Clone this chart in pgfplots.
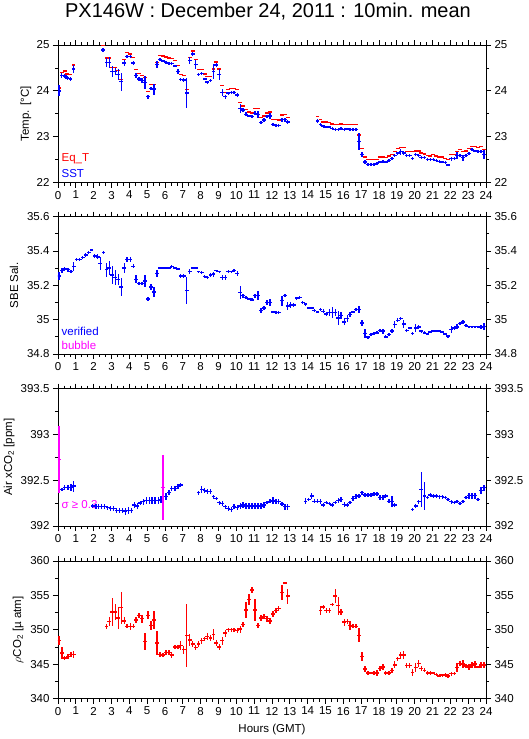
\documentclass[border=0pt]{standalone}
\usepackage{fontspec}
\setmainfont{Liberation Sans}
\usepackage{pgfplots}
\pgfplotsset{compat=1.18}
\usepackage{pgfplotstable}

% SST (blue): hour, value, half error
\pgfplotstableread{
h v e
0.05 24.00 0.12
0.20 24.33 0.05
0.37 24.32 0.04
0.53 24.28 0.04
0.70 24.26 0.04
0.87 24.48 0.08
2.52 24.89 0.05
2.72 24.62 0.10
2.88 24.62 0.12
3.05 24.42 0.12
3.22 24.42 0.08
3.38 24.36 0.12
3.55 24.20 0.20
3.72 24.61 0.06
3.88 24.75 0.04
4.05 24.75 0.04
4.22 24.61 0.05
4.38 24.34 0.06
4.55 24.26 0.04
4.72 24.22 0.05
4.88 24.18 0.14
5.05 23.87 0.05
5.22 24.05 0.04
5.38 24.04 0.12
5.55 24.58 0.08
5.72 24.69 0.03
5.88 24.65 0.03
6.05 24.62 0.03
6.22 24.60 0.03
6.38 24.60 0.03
6.55 24.54 0.03
6.72 24.42 0.06
6.88 24.25 0.04
7.05 24.24 0.05
7.22 23.95 0.32
7.38 24.66 0.08
7.55 24.80 0.04
7.72 24.58 0.10
7.88 24.36 0.03
8.05 24.38 0.03
8.22 24.26 0.03
8.38 24.19 0.03
8.55 24.22 0.03
8.72 24.42 0.16
8.88 24.56 0.05
9.05 24.36 0.12
9.22 23.97 0.08
9.38 23.87 0.04
9.55 23.95 0.03
9.72 23.96 0.03
9.88 23.97 0.03
10.05 23.91 0.04
10.22 23.62 0.10
10.38 23.58 0.04
10.55 23.49 0.04
10.72 23.45 0.03
10.88 23.44 0.03
11.05 23.51 0.04
11.22 23.49 0.08
11.38 23.31 0.04
11.55 23.36 0.04
11.72 23.44 0.04
11.88 23.45 0.07
12.05 23.26 0.03
12.22 23.25 0.03
12.38 23.25 0.03
12.55 23.37 0.04
12.72 23.37 0.04
12.88 23.32 0.04
14.55 23.34 0.04
14.72 23.26 0.03
14.88 23.23 0.03
15.05 23.21 0.03
15.22 23.21 0.03
15.38 23.18 0.03
15.55 23.16 0.03
15.72 23.16 0.03
15.88 23.18 0.03
16.05 23.16 0.03
16.22 23.17 0.03
16.38 23.16 0.03
16.55 23.16 0.03
16.72 23.16 0.03
16.88 22.90 0.18
17.05 22.61 0.05
17.22 22.45 0.05
17.38 22.39 0.03
17.55 22.39 0.03
17.72 22.39 0.03
17.88 22.41 0.03
18.05 22.45 0.03
18.22 22.46 0.03
18.38 22.45 0.03
18.55 22.48 0.03
18.72 22.52 0.03
18.88 22.59 0.04
19.05 22.64 0.03
19.22 22.67 0.06
19.38 22.64 0.04
19.55 22.59 0.03
19.72 22.59 0.03
19.88 22.52 0.03
20.05 22.61 0.03
20.22 22.59 0.03
20.38 22.54 0.03
20.55 22.54 0.03
20.72 22.50 0.03
20.88 22.50 0.03
21.05 22.50 0.03
21.22 22.48 0.03
21.38 22.46 0.03
21.55 22.45 0.03
21.72 22.43 0.03
21.88 22.38 0.03
22.05 22.52 0.04
22.22 22.52 0.03
22.38 22.59 0.07
22.55 22.59 0.03
22.72 22.54 0.06
22.88 22.59 0.03
23.05 22.63 0.03
23.22 22.72 0.03
23.38 22.69 0.03
23.55 22.67 0.03
23.72 22.67 0.03
23.88 22.61 0.09
}\sst

% Eq_T (red)
\pgfplotstableread{
h v
0.05 24.06
0.20 24.40
0.37 24.43
0.53 24.37
0.70 24.35
0.87 24.56
2.52 24.99
2.72 24.72
2.88 24.72
3.05 24.51
3.22 24.51
3.38 24.44
3.55 24.25
3.72 24.69
3.88 24.83
4.05 24.80
4.22 24.73
4.38 24.47
4.55 24.38
4.72 24.33
4.88 24.29
5.05 23.99
5.22 24.14
5.38 24.14
5.55 24.62
5.72 24.77
5.88 24.76
6.05 24.74
6.22 24.72
6.38 24.70
6.55 24.66
6.72 24.55
6.88 24.36
7.05 24.33
7.22 24.03
7.38 24.73
7.55 24.87
7.72 24.69
7.88 24.47
8.05 24.47
8.22 24.37
8.38 24.31
8.55 24.31
8.72 24.48
8.88 24.63
9.05 24.48
9.22 24.11
9.38 23.97
9.55 24.03
9.72 24.05
9.88 24.05
10.05 24.03
10.22 23.74
10.38 23.67
10.55 23.59
10.72 23.54
10.88 23.52
11.05 23.62
11.22 23.62
11.38 23.42
11.55 23.45
11.72 23.52
11.88 23.54
12.05 23.37
12.22 23.37
12.38 23.36
12.55 23.47
12.72 23.48
12.88 23.42
14.55 23.44
14.72 23.37
14.88 23.32
15.05 23.32
15.22 23.31
15.38 23.28
15.55 23.26
15.72 23.26
15.88 23.28
16.05 23.26
16.22 23.26
16.38 23.26
16.55 23.26
16.72 23.26
16.88 23.04
17.05 22.74
17.22 22.56
17.38 22.50
17.55 22.50
17.72 22.50
17.88 22.50
18.05 22.56
18.22 22.56
18.38 22.54
18.55 22.58
18.72 22.61
18.88 22.67
19.05 22.74
19.22 22.76
19.38 22.76
19.55 22.67
19.72 22.67
19.88 22.68
20.05 22.69
20.22 22.69
20.38 22.64
20.55 22.62
20.72 22.59
20.88 22.58
21.05 22.61
21.22 22.58
21.38 22.56
21.55 22.56
21.72 22.52
21.88 22.50
22.05 22.61
22.22 22.61
22.38 22.67
22.55 22.72
22.72 22.67
22.88 22.69
23.05 22.74
23.22 22.78
23.38 22.78
23.55 22.76
23.72 22.78
23.88 22.72
}\eqt

% SBE salinity (blue)
\pgfplotstableread{
h v e
0.05 35.254 0.025
0.22 35.285 0.015
0.38 35.295 0.012
0.55 35.290 0.010
0.72 35.280 0.010
0.88 35.310 0.025
1.05 35.350 0.010
1.22 35.350 0.010
1.38 35.360 0.010
1.55 35.375 0.010
1.72 35.390 0.010
1.88 35.405 0.008
2.05 35.370 0.012
2.22 35.365 0.015
2.38 35.327 0.040
2.55 35.390 0.010
2.72 35.290 0.040
2.88 35.300 0.040
3.05 35.260 0.050
3.22 35.246 0.045
3.38 35.235 0.033
3.55 35.190 0.050
3.72 35.300 0.028
3.88 35.350 0.012
4.05 35.350 0.012
4.22 35.310 0.012
4.38 35.235 0.022
4.55 35.210 0.010
4.72 35.210 0.010
4.88 35.225 0.035
5.05 35.120 0.012
5.22 35.190 0.015
5.38 35.160 0.028
5.55 35.270 0.020
5.72 35.300 0.008
5.88 35.300 0.005
6.05 35.300 0.005
6.22 35.300 0.005
6.38 35.310 0.008
6.55 35.300 0.005
6.72 35.295 0.005
6.88 35.255 0.012
7.05 35.255 0.010
7.22 35.170 0.080
7.38 35.280 0.015
7.55 35.300 0.008
7.72 35.300 0.005
7.88 35.280 0.005
8.05 35.275 0.008
8.22 35.250 0.008
8.38 35.246 0.008
8.55 35.260 0.010
8.72 35.265 0.015
8.88 35.285 0.005
9.05 35.280 0.005
9.22 35.246 0.015
9.38 35.246 0.015
9.55 35.280 0.008
9.72 35.280 0.005
9.88 35.285 0.008
10.05 35.270 0.015
10.22 35.158 0.040
10.38 35.140 0.012
10.55 35.130 0.008
10.72 35.120 0.008
10.88 35.115 0.008
11.05 35.140 0.012
11.22 35.140 0.025
11.38 35.054 0.015
11.55 35.067 0.010
11.72 35.098 0.015
11.88 35.100 0.020
12.05 35.044 0.008
12.22 35.042 0.008
12.38 35.042 0.008
12.55 35.110 0.028
12.72 35.140 0.008
12.88 35.080 0.025
13.05 35.085 0.015
13.22 35.085 0.010
13.38 35.125 0.008
13.55 35.130 0.008
13.72 35.100 0.008
13.88 35.090 0.008
14.05 35.067 0.005
14.22 35.067 0.005
14.38 35.054 0.008
14.55 35.044 0.008
14.72 35.060 0.010
14.88 35.048 0.012
15.05 35.033 0.010
15.22 35.042 0.020
15.38 35.042 0.030
15.55 35.042 0.020
15.72 35.010 0.040
15.88 35.023 0.020
16.05 34.987 0.020
16.22 35.005 0.020
16.38 35.030 0.012
16.55 35.044 0.008
16.72 35.058 0.008
16.88 35.058 0.020
17.05 34.980 0.015
17.22 34.920 0.025
17.38 34.898 0.008
17.55 34.913 0.008
17.72 34.920 0.008
17.88 34.923 0.008
18.05 34.937 0.008
18.22 34.933 0.015
18.38 34.900 0.008
18.55 34.913 0.008
18.72 34.933 0.010
18.88 34.971 0.020
19.05 34.996 0.012
19.22 35.006 0.010
19.38 34.975 0.025
19.55 34.938 0.008
19.72 34.952 0.008
19.88 34.919 0.010
20.05 34.952 0.022
20.22 34.958 0.012
20.38 34.933 0.008
20.55 34.923 0.008
20.72 34.917 0.008
20.88 34.927 0.005
21.05 34.933 0.005
21.22 34.933 0.005
21.38 34.933 0.005
21.55 34.927 0.005
21.72 34.917 0.005
21.88 34.904 0.008
22.05 34.942 0.020
22.22 34.952 0.012
22.38 34.958 0.015
22.55 34.977 0.008
22.72 34.987 0.012
22.88 34.967 0.008
23.05 34.960 0.005
23.22 34.960 0.005
23.38 34.960 0.005
23.55 34.960 0.005
23.72 34.958 0.012
23.88 34.960 0.020
}\sal

% Air xCO2 (blue)
\pgfplotstableread{
h v e
0.22 392.400 0.020
0.38 392.420 0.030
0.55 392.420 0.030
0.72 392.420 0.035
0.88 392.435 0.060
1.95 392.218 0.020
2.12 392.210 0.025
2.28 392.215 0.025
2.45 392.215 0.030
2.62 392.215 0.030
2.78 392.200 0.020
2.95 392.190 0.030
3.12 392.190 0.030
3.28 392.167 0.030
3.45 392.167 0.030
3.62 392.167 0.030
3.78 392.156 0.035
3.95 392.170 0.035
4.12 392.170 0.030
4.28 392.230 0.035
4.45 392.220 0.035
4.62 392.250 0.025
4.78 392.265 0.035
4.95 392.280 0.035
5.12 392.280 0.035
5.28 392.280 0.035
5.45 392.280 0.035
5.62 392.280 0.040
5.78 392.290 0.040
6.05 392.320 0.035
6.22 392.363 0.030
6.38 392.410 0.025
6.55 392.410 0.030
6.72 392.430 0.025
6.88 392.447 0.025
7.88 392.363 0.020
8.05 392.400 0.035
8.22 392.385 0.025
8.38 392.374 0.025
8.55 392.374 0.025
8.72 392.320 0.020
8.88 392.300 0.020
9.05 392.254 0.020
9.22 392.247 0.025
9.38 392.210 0.020
9.55 392.190 0.025
9.72 392.180 0.030
9.88 392.210 0.025
10.05 392.203 0.030
10.22 392.220 0.035
10.38 392.230 0.030
10.55 392.220 0.035
10.72 392.220 0.030
10.88 392.220 0.035
11.05 392.220 0.035
11.22 392.220 0.035
11.38 392.218 0.035
11.55 392.230 0.030
11.72 392.257 0.020
11.88 392.270 0.020
12.05 392.280 0.035
12.22 392.270 0.030
12.38 392.270 0.030
12.55 392.240 0.025
12.72 392.210 0.030
12.88 392.210 0.030
13.88 392.270 0.035
14.05 392.290 0.020
14.22 392.327 0.030
14.38 392.270 0.020
14.55 392.270 0.020
14.72 392.270 0.030
14.88 392.230 0.020
15.05 392.258 0.020
15.22 392.247 0.020
15.38 392.230 0.025
15.55 392.257 0.020
15.72 392.280 0.025
15.88 392.290 0.030
16.05 392.236 0.025
16.22 392.230 0.020
16.38 392.257 0.020
16.55 392.300 0.025
16.72 392.320 0.030
16.88 392.327 0.020
17.05 392.363 0.020
17.22 392.337 0.020
17.38 392.337 0.020
17.55 392.337 0.020
17.72 392.350 0.020
17.88 392.350 0.020
18.05 392.310 0.025
18.22 392.310 0.025
18.38 392.327 0.020
18.55 392.270 0.020
18.72 392.270 0.060
18.88 392.230 0.020
19.88 392.180 0.020
20.05 392.218 0.020
20.22 392.265 0.020
20.38 392.400 0.190
20.55 392.327 0.150
20.72 392.310 0.020
20.88 392.337 0.020
21.05 392.327 0.020
21.22 392.327 0.020
21.38 392.320 0.020
21.55 392.320 0.020
21.72 392.310 0.020
21.88 392.290 0.020
22.05 392.265 0.020
22.22 392.258 0.015
22.38 392.270 0.015
22.55 392.247 0.015
22.72 392.270 0.015
22.88 392.310 0.020
23.05 392.330 0.030
23.22 392.330 0.030
23.38 392.330 0.030
23.55 392.290 0.020
23.72 392.390 0.040
23.88 392.417 0.030
}\xco

% Air xCO2 with sigma >= 0.3 (magenta)
\pgfplotstableread{
h v e
0.05 392.726 0.370
5.88 392.420 0.350
}\xcosig

% pCO2 (red)
\pgfplotstableread{
h v e
0.05 348.45 0.7
0.22 346.6 0.9
0.38 345.9 0.3
0.55 346.1 0.4
0.72 346.4 0.4
0.88 346.4 0.5
2.72 350.5 0.4
2.88 351.2 0.6
3.05 352.6 2.0
3.22 352.6 1.2
3.38 351.7 1.6
3.55 353.2 2.3
3.72 351.3 0.5
3.88 350.5 0.3
4.05 350.5 0.5
4.22 350.5 0.3
4.38 351.4 0.4
4.55 352.1 0.4
4.72 351.6 0.6
4.88 348.3 1.3
5.05 352.1 0.6
5.22 350.6 0.7
5.38 351.4 1.3
5.55 348.1 1.7
5.72 346.4 0.3
5.88 346.3 0.3
6.05 346.7 0.3
6.22 346.7 0.3
6.38 346.3 0.4
6.55 347.5 0.3
6.72 347.5 0.3
6.88 347.7 0.7
7.05 347.1 0.6
7.22 349.2 4.6
7.38 348.5 0.9
7.55 347.9 0.4
7.72 347.4 0.4
7.88 347.9 0.4
8.05 348.4 0.4
8.22 348.7 0.3
8.38 349.0 0.5
8.55 348.8 0.4
8.72 349.3 0.8
8.88 348.1 0.4
9.05 347.5 0.4
9.22 348.4 0.6
9.38 349.5 0.5
9.55 350.0 0.3
9.72 350.0 0.3
9.88 350.0 0.3
10.05 349.9 0.3
10.22 350.1 0.5
10.38 350.8 0.4
10.55 352.9 1.2
10.72 354.4 0.8
10.88 355.8 0.4
11.05 352.9 1.6
11.22 350.6 0.4
11.38 351.7 0.4
11.55 351.9 0.4
11.72 351.6 0.4
11.88 351.3 0.4
12.05 352.3 0.5
12.22 352.8 0.3
12.38 353.1 0.3
12.55 355.4 1.1
12.72 356.8 0.2
12.88 354.9 1.1
14.72 352.8 0.6
14.88 353.3 0.3
15.05 352.8 0.4
15.22 352.8 0.4
15.38 353.7 0.2
15.55 354.9 1.0
15.72 353.5 1.3
15.88 352.6 0.4
16.05 351.1 0.5
16.22 351.2 0.4
16.38 350.6 0.7
16.55 350.5 0.3
16.72 350.5 0.3
16.88 349.2 1.0
17.05 346.1 0.7
17.22 344.3 0.4
17.38 343.7 0.3
17.55 343.7 0.2
17.72 343.7 0.3
17.88 343.7 0.4
18.05 344.4 0.4
18.22 344.6 0.4
18.38 343.7 0.3
18.55 343.7 0.3
18.72 344.1 0.4
18.88 344.9 0.5
19.05 345.8 0.3
19.22 346.3 0.5
19.38 346.3 0.6
19.55 344.8 0.3
19.72 344.8 0.3
19.88 343.8 0.5
20.05 344.5 0.7
20.22 345.1 0.5
20.38 344.4 0.4
20.55 344.1 0.3
20.72 343.7 0.3
20.88 343.7 0.3
21.05 343.7 0.2
21.22 343.5 0.2
21.38 343.3 0.2
21.55 343.4 0.2
21.72 343.4 0.3
21.88 343.3 0.3
22.05 343.6 0.3
22.22 343.6 0.2
22.38 344.5 0.6
22.55 345.1 0.4
22.72 345.0 0.6
22.88 344.7 0.3
23.05 344.6 0.4
23.22 344.9 0.4
23.38 345.0 0.5
23.55 344.6 0.2
23.72 344.9 0.4
23.88 344.9 0.4
}\pco

\definecolor{mag}{RGB}{255,0,255}

\pgfplotsset{
  panel/.style={
    scale only axis, width=428pt, height=137.5pt, anchor=north west,
    xmin=0, xmax=24, xtick={0,1,...,24}, minor x tick num=2,
    minor y tick num=1,
    tick align=outside, xtick pos=both, ytick pos=both,
    xticklabel pos=bottom, yticklabel pos=left,
    major tick length=5pt, minor tick length=3pt,
    tick style={black, line width=0.7pt},
    axis line style={line width=0.9pt},
    every tick label/.append style={font=\fontsize{11.5}{13}\selectfont},
    /pgf/number format/assume math mode=true,
    ylabel style={font=\fontsize{11.5}{13}\selectfont, anchor=center},
  },
  rightlab/.style={
    panel, hide x axis, ytick pos=right, yticklabel pos=right,
    ytick style={draw=none}, minor y tick num=0, axis line style={draw=none},
  },
  cross/.style={draw=none, mark=none, forget plot,
    /pgfplots/error bars/x dir=both, /pgfplots/error bars/x fixed=0.11,
    /pgfplots/error bars/y dir=both, /pgfplots/error bars/y explicit,
    /pgfplots/error bars/error mark=none,
    /pgfplots/error bars/error bar style={draw=#1, line width=1.4pt}},
  dashs/.style={draw=none, mark=none, forget plot,
    /pgfplots/error bars/x dir=both, /pgfplots/error bars/x fixed=0.11,
    /pgfplots/error bars/error mark=none,
    /pgfplots/error bars/error bar style={draw=#1, line width=1.4pt}},
}

\begin{document}
\begin{tikzpicture}
\useasboundingbox (0,0) rectangle (529pt,-739pt);

\node at (268pt,-12pt) {\fontsize{20}{24}\selectfont PX146W : December 24, 2011 : 10min. mean};

% panel 1: temperatures
\begin{axis}[panel, at={(58pt,-45pt)}, ymin=22, ymax=25, ytick={22,23,24,25},
  ylabel={Temp. [°C]}, ylabel style={at={(axis description cs:-0.075,0.5)}}]
  \addplot[dashs=red] table[x=h, y=v] {\eqt};
  \addplot[cross=blue] table[x=h, y=v, y error=e] {\sst};
  \node[anchor=west, text=red, inner sep=0pt, font=\fontsize{11.5}{13}\selectfont] at (rel axis cs:0.008,0.175) {Eq\_T};
  \node[anchor=west, text=blue, inner sep=0pt, font=\fontsize{11.5}{13}\selectfont] at (rel axis cs:0.008,0.065) {SST};
\end{axis}
\begin{axis}[rightlab, at={(58pt,-45pt)}, ymin=22, ymax=25, ytick={22,23,24,25}]
\end{axis}

% panel 2: salinity
\begin{axis}[panel, at={(58pt,-216.5pt)}, ymin=34.8, ymax=35.6, ytick={34.8,35,35.2,35.4,35.6},
  ylabel={SBE Sal.}, ylabel style={at={(axis description cs:-0.103,0.5)}}]
  \addplot[cross=blue] table[x=h, y=v, y error=e] {\sal};
  \node[anchor=west, text=blue, inner sep=0pt, font=\fontsize{11.5}{13}\selectfont] at (rel axis cs:0.008,0.165) {verified};
  \node[anchor=west, text=mag, inner sep=0pt, font=\fontsize{11.5}{13}\selectfont] at (rel axis cs:0.008,0.063) {bubble};
\end{axis}
\begin{axis}[rightlab, at={(58pt,-216.5pt)}, ymin=34.8, ymax=35.6, ytick={34.8,35,35.2,35.4,35.6}]
\end{axis}

% panel 3: air xCO2
\begin{axis}[panel, at={(58pt,-388.5pt)}, ymin=392, ymax=393.5, ytick={392,392.5,393,393.5},
  ylabel={Air xCO\textsubscript{2} [ppm]}, ylabel style={at={(axis description cs:-0.114,0.5)}}]
  \node[anchor=west, text=mag, inner sep=0pt, font=\fontsize{11.5}{13}\selectfont] at (rel axis cs:0.008,0.153) {σ ≥ 0.3};
  \addplot[cross=blue] table[x=h, y=v, y error=e] {\xco};
  \addplot[cross=mag] table[x=h, y=v, y error=e] {\xcosig};
\end{axis}
\begin{axis}[rightlab, at={(58pt,-388.5pt)}, ymin=392, ymax=393.5, ytick={392,392.5,393,393.5}]
\end{axis}

% panel 4: pCO2
\begin{axis}[panel, at={(58pt,-561pt)}, ymin=340, ymax=360, ytick={340,345,...,360},
  ylabel={$\rho$CO\textsubscript{2} [µ atm]}, ylabel style={at={(axis description cs:-0.093,0.5)}}]
  \addplot[cross=red] table[x=h, y=v, y error=e] {\pco};
\end{axis}
\begin{axis}[rightlab, at={(58pt,-561pt)}, ymin=340, ymax=360, ytick={340,345,...,360}]
\end{axis}

\node at (272pt,-730pt) {\fontsize{11.5}{13}\selectfont Hours (GMT)};
\end{tikzpicture}
\end{document}
